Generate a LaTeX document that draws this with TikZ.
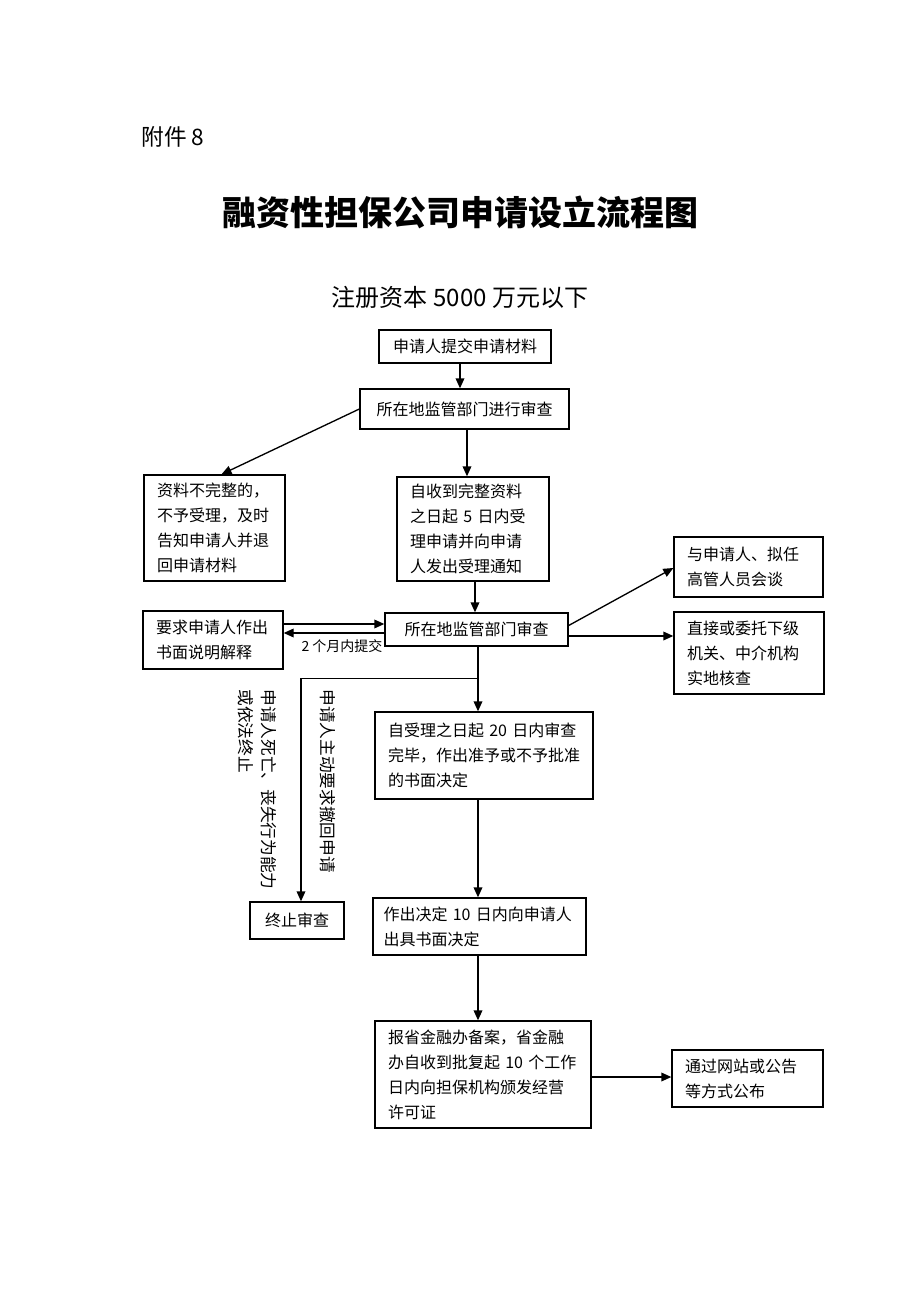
\documentclass[tikz,border=0pt]{standalone}
\usepackage{fontspec}
\setmainfont{Noto Sans CJK SC}
\usetikzlibrary{arrows.meta,calc}
\tikzset{every picture/.style={line width=0.75pt}}
\tikzset{
  box/.style={draw, line width=1pt, align=left, inner xsep=9.75pt, inner ysep=0pt, font=\fontsize{12}{18.75}\selectfont},
  cbox/.style={draw, line width=1pt, align=center, inner sep=0pt, font=\fontsize{12}{18.75}\selectfont},
  vnote/.style={inner sep=0pt, rotate=-90, font=\fontsize{12.5}{17.25}\selectfont},
  arr/.style={-{Triangle[length=7.5pt,width=6.5pt]}, line width=1pt},
}

\begin{document}
\begin{tikzpicture}[x=0.75pt,y=0.75pt,yscale=-1,xscale=1]
\useasboundingbox (0,0) rectangle (920,1302);

% Text Node
\node (annex) at (173,137) [font=\fontsize{17}{20}\selectfont] {附件 8};
% Text Node
\node (title) at (460,212) [font=\fontsize{25.5}{30}\selectfont\bfseries] {融资性担保公司申请设立流程图};
% Text Node
\node (sub) at (460,297) [font=\fontsize{18}{22}\selectfont] {注册资本 5000 万元以下};

%Shape: Rectangle [id:b1]
\node (b1) at (465,346.5) [cbox, minimum width=129pt, minimum height=24.75pt] {申请人提交申请材料};
%Shape: Rectangle [id:b2]
\node (b2) at (464.5,409) [cbox, minimum width=156.75pt, minimum height=30pt] {所在地监管部门进行审查};
%Shape: Rectangle [id:b3]
\node (b3) at (214.5,528) [box, text width=86.25pt, minimum height=79.5pt] {资料不完整的，\\不予受理，及时\\告知申请人并退\\回申请材料};
%Shape: Rectangle [id:b4]
\node (b4) at (473,529) [box, text width=94.5pt, minimum height=78pt] {自收到完整资料\\之日起~5~日内受\\理申请并向申请\\人发出受理通知};
%Shape: Rectangle [id:b5]
\node (b5) at (476.5,629.5) [cbox, minimum width=137.25pt, minimum height=24.75pt] {所在地监管部门审查};
%Shape: Rectangle [id:b6]
\node (b6) at (213,640) [box, text width=85.5pt, minimum height=43.5pt] {要求申请人作出\\书面说明解释};
%Shape: Rectangle [id:b7]
\node (b7) at (748.5,567) [box, text width=92.25pt, minimum height=45pt] {与申请人、拟任\\高管人员会谈};
%Shape: Rectangle [id:b8]
\node (b8) at (749,653) [box, text width=93pt, minimum height=61.5pt] {直接或委托下级\\机关、中介机构\\实地核查};
%Shape: Rectangle [id:b9]
\node (b9) at (484,755.5) [box, text width=144pt, minimum height=65.25pt] {自受理之日起~20~日内审查\\完毕，作出准予或不予批准\\的书面决定};
%Shape: Rectangle [id:b10]
\node (b10) at (297,920.5) [cbox, minimum width=70.5pt, minimum height=27.75pt] {终止审查};
%Shape: Rectangle [id:b11]
\node (b11) at (479.5,926.5) [box, inner xsep=7.875pt, text width=144pt, minimum height=42.75pt] {作出决定~10~日内向申请人\\出具书面决定};
%Shape: Rectangle [id:b12]
\node (b12) at (483,1074.5) [box, text width=142.5pt, minimum height=80.25pt] {报省金融办备案，省金融\\办自收到批复起~10~个工作\\日内向担保机构颁发经营\\许可证};
%Shape: Rectangle [id:b13]
\node (b13) at (747.5,1078.5) [box, text width=93.75pt, minimum height=42.75pt] {通过网站或公告\\等方式公布};

% Text Node
\node (withdraw) at (328,689) [vnote, anchor=west] {申请人主动要求撤回申请};
% Text Node
\node (death) at (277,689) [vnote, anchor=north west, align=left] {申请人死亡、丧失行为能力\\或依法终止};

%Straight Lines
\coordinate (c1) at ($(b1.south)+(-5,0)$);
\draw[arr] (c1) -- (c1 |- b2.north);
\draw[arr] (b2.west) -- ($(b3.north)+(7,0)$);
\coordinate (c2) at ($(b2.south)+(2.5,0)$);
\draw[arr] (c2) -- (c2 |- b4.north);
\coordinate (c3) at ($(b4.south)+(2,0)$);
\draw[arr] (c3) -- (c3 |- b5.north);
%Straight Lines
\coordinate (up) at ($(b5.west)+(0,-5.5)$);
\coordinate (lo) at ($(b5.west)+(0,3.5)$);
\draw[arr] (b6.east |- up) -- (up);
\draw[arr] (lo) -- (b6.east |- lo);
\node (lbl) at (342,646) [inner sep=0pt, font=\fontsize{10.5}{12}\selectfont] {2 个月内提交};
%Straight Lines
\draw[arr] ($(b5.east)+(0,-4)$) -- ($(b7.west)+(0,1)$);
\coordinate (c4) at ($(b5.east)+(0,6.5)$);
\draw[arr] (c4) -- (c4 -| b8.west);
%Straight Lines
\coordinate (c5) at ($(b5.south)+(1.5,0)$);
\coordinate (j) at ($(c5)+(0,32)$);
\draw[arr] (c5) -- (c5 |- b9.north);
\draw[arr] (j) -| ($(b10.north)+(4,0)$);
\coordinate (c6) at ($(b9.south)+(-6,0)$);
\draw[arr] (c6) -- (c6 |- b11.north);
\coordinate (c7) at ($(b11.south)+(-1.5,0)$);
\draw[arr] (c7) -- (c7 |- b12.north);
\coordinate (c8) at ($(b12.east)+(0,2.5)$);
\draw[arr] (c8) -- (c8 -| b13.west);

\end{tikzpicture}
\end{document}
